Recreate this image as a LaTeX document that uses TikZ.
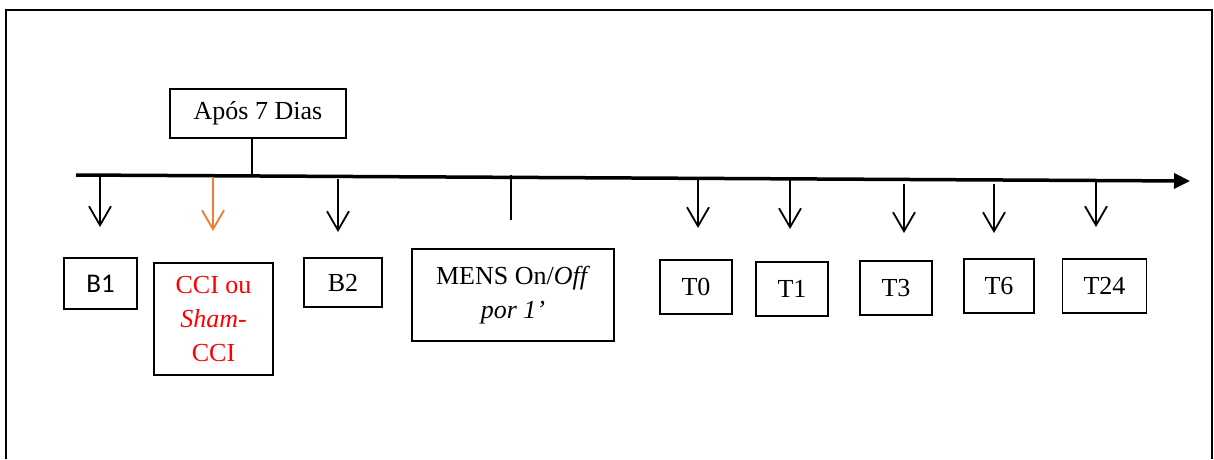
\documentclass[tikz,border=0pt]{standalone}
\usepackage{fontspec}
\setmainfont{Liberation Serif}
\newfontfamily\calibri{Carlito}
\usetikzlibrary{arrows.meta}
\definecolor{cciRed}{RGB}{255,0,0}
\definecolor{cciOrange}{RGB}{237,125,49}

\begin{document}
\begin{tikzpicture}[x=1pt,y=-1pt]
\tikzset{box/.style = {draw, line width=1.2pt, inner sep=0pt, align=center, font=\fontsize{26}{34}\selectfont},
         tickarrow/.style = {line width=1.8pt, -{Straight Barb[length=19pt,width=22pt,line width=1.8pt]}}}
\useasboundingbox (0,0) rectangle (1214,459);

% outer frame, open at the bottom
\draw[line width=2pt] (6,459) -- (6,10) -- (1212,10) -- (1212,459);

% time axis
\coordinate (axis start) at (76,175);
\coordinate (axis end) at (1190,181);
\draw[line width=3.5pt, -{Triangle[length=16pt,width=15pt]}] (axis start) -- (axis end);

% boxes
\node[box, minimum width=176pt, minimum height=49pt] (apos) at (258,113.5) {Após 7 Dias};
\node[box, font=\calibri\fontsize{27}{33}\selectfont, minimum width=73pt, minimum height=51pt] (B1) at (100.5,283.5) {B1};
\node[box, text=cciRed, minimum width=119pt, minimum height=112pt] (cci) at (213.5,319) {CCI ou\\\textit{Sham}-\\CCI};
\node[box, minimum width=78pt, minimum height=49pt] (B2) at (343,282.5) {B2};
\node[box, minimum width=202pt, minimum height=92pt] (mens) at (513,295) {MENS On/\textit{Off}\\\textit{por 1’}};
\foreach \n/\x/\y/\w in {T0/696/287/72, T1/792/289/72, T3/896/288/72, T6/999/286/70, T24/1104.5/286/84}
  \node[box, minimum width=\w pt, minimum height=54pt] (\n) at (\x,\y) {\n};

% stem from the 7 days box
\coordinate (stem top) at (252,138);
\coordinate (stem foot) at (252,176);
\draw[line width=1.8pt] (stem top) -- (stem foot);

% tick for the stimulation
\coordinate (mens top) at (511,175);
\coordinate (mens foot) at (511,220);
\draw[line width=1.8pt] (mens top) -- (mens foot);

% arrows down from the axis
\foreach \n/\x/\ya/\yb in {b1/100/177/227, b2/338/179/232, t0/698/178/228, t1/790/180/229, t3/904/184/233, t6/994/184/233, t24/1096/179/227} {
  \coordinate (\n top) at (\x,\ya);
  \coordinate (\n tip) at (\x,\yb);
  \draw[tickarrow] (\n top) -- (\n tip);
}
\coordinate (cci top) at (213,178);
\coordinate (cci tip) at (213,231);
\draw[tickarrow, cciOrange] (cci top) -- (cci tip);
\end{tikzpicture}
\end{document}
